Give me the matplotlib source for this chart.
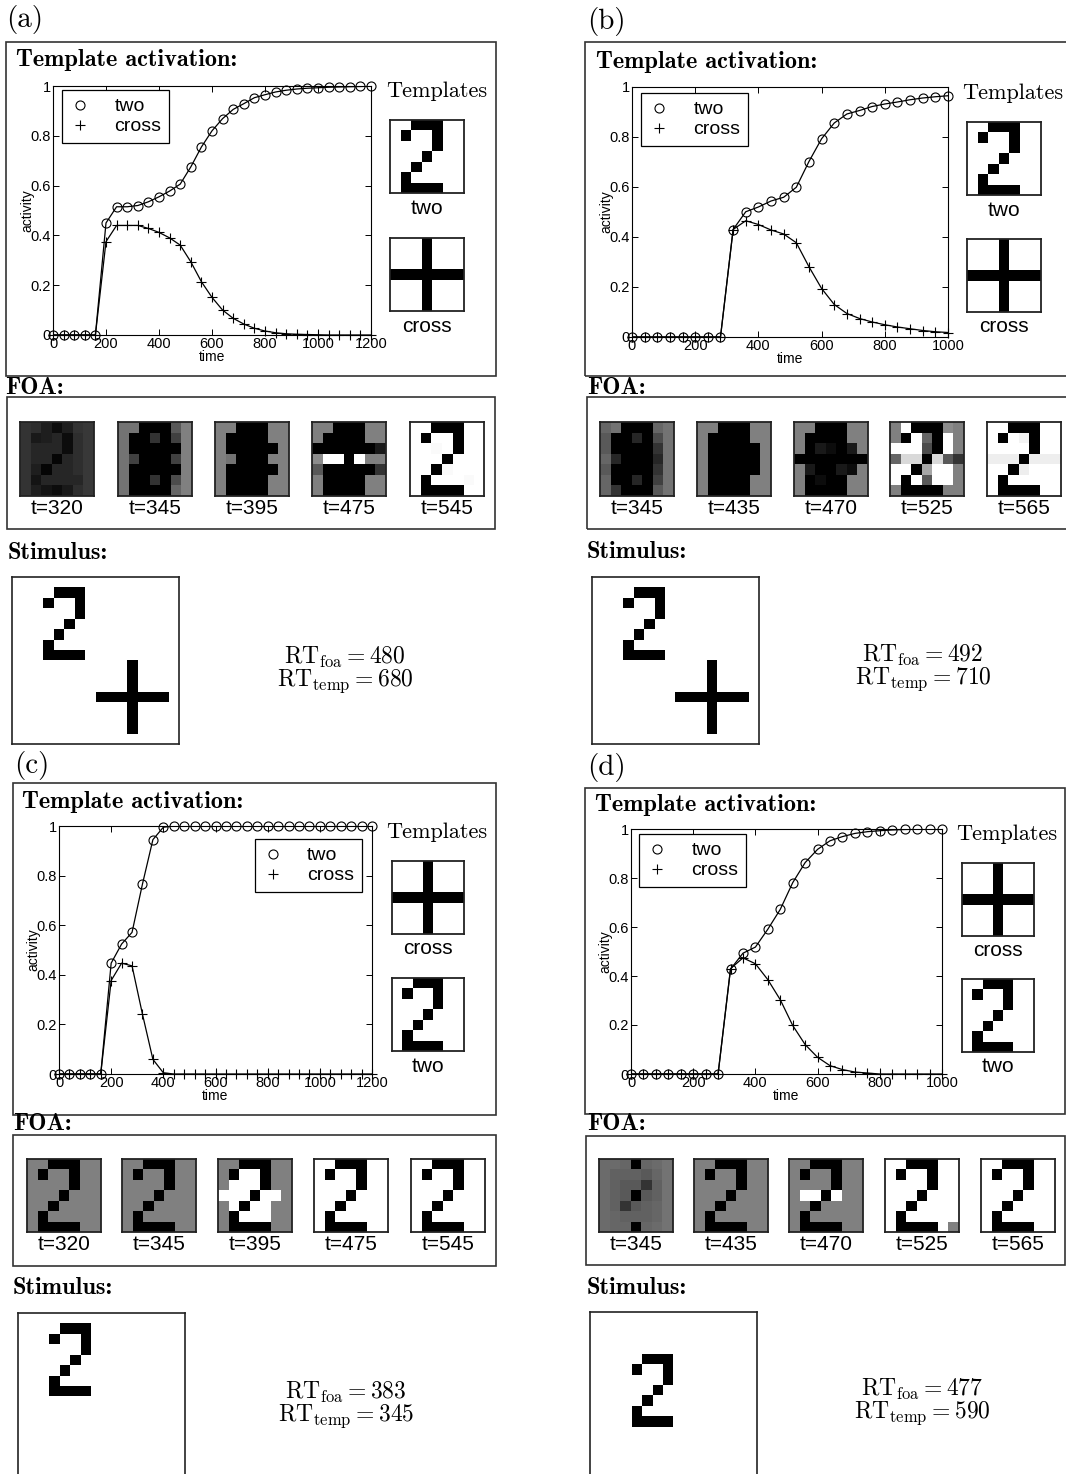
import numpy as np
import matplotlib
matplotlib.use('Agg')
import matplotlib.pyplot as plt
from matplotlib.patches import Rectangle

W, H = 1066, 1474
plt.rcParams['mathtext.fontset'] = 'cm'
SANS = 'Liberation Sans'
SERIF = 'cmr10'
BOLD = 'cmb10'

# ---------------- data ----------------
TWO = [[0, 0, 1, 1, 1, 0, 0],
       [0, 1, 0, 0, 1, 0, 0],
       [0, 0, 0, 0, 1, 0, 0],
       [0, 0, 0, 1, 0, 0, 0],
       [0, 0, 1, 0, 0, 0, 0],
       [0, 1, 0, 0, 0, 0, 0],
       [0, 1, 1, 1, 1, 0, 0]]
CROSS = [[0, 0, 0, 1, 0, 0, 0],
         [0, 0, 0, 1, 0, 0, 0],
         [0, 0, 0, 1, 0, 0, 0],
         [1, 1, 1, 1, 1, 1, 1],
         [0, 0, 0, 1, 0, 0, 0],
         [0, 0, 0, 1, 0, 0, 0],
         [0, 0, 0, 1, 0, 0, 0]]

time_a = list(range(0, 1201, 40))
two_a = [0, 0, 0, 0, 0, 0.45, 0.515, 0.515, 0.52, 0.535, 0.555, 0.578, 0.606, 0.675, 0.755, 0.82,
         0.869, 0.906, 0.929, 0.953, 0.965, 0.976, 0.983, 0.988, 0.991, 0.993, 0.995, 0.996, 0.997,
         0.998, 0.999]
cross_a = [0, 0, 0, 0, 0, 0.375, 0.44, 0.44, 0.44, 0.428, 0.412, 0.39, 0.361, 0.294, 0.214, 0.151,
           0.10, 0.067, 0.044, 0.027, 0.016, 0.009, 0.005, 0.003, 0.002, 0.001, 0, 0, 0, 0, 0]

time_b = list(range(0, 1001, 40))
two_b = [0, 0, 0, 0, 0, 0, 0, 0, 0.43, 0.501, 0.52, 0.544, 0.559, 0.599, 0.702, 0.793, 0.856, 0.892,
         0.906, 0.922, 0.932, 0.94, 0.949, 0.956, 0.961, 0.965]
cross_b = [0, 0, 0, 0, 0, 0, 0, 0, 0.43, 0.465, 0.45, 0.428, 0.412, 0.377, 0.281, 0.194, 0.13, 0.094,
           0.074, 0.06, 0.049, 0.04, 0.033, 0.026, 0.021, 0.018]

time_c = list(range(0, 1201, 40))
two_c = [0, 0, 0, 0, 0, 0.447, 0.524, 0.571, 0.766, 0.945, 0.995] + [1.0] * 20
cross_c = [0, 0, 0, 0, 0, 0.377, 0.447, 0.436, 0.241, 0.059, 0.005] + [0.0] * 20

time_d = list(range(0, 1001, 40))
two_d = [0, 0, 0, 0, 0, 0, 0, 0, 0.428, 0.493, 0.518, 0.591, 0.672, 0.781, 0.863, 0.917, 0.952, 0.969,
         0.982, 0.989, 0.993, 0.996, 0.998, 0.999, 1.0, 1.0]
cross_d = [0, 0, 0, 0, 0, 0, 0, 0, 0.43, 0.474, 0.45, 0.385, 0.303, 0.198, 0.12, 0.068, 0.034, 0.018,
           0.008, 0.004, 0, 0, 0, 0, 0, 0]

foa_times_a = ['t=320', 't=345', 't=395', 't=475', 't=545']
foa_times_b = ['t=345', 't=435', 't=470', 't=525', 't=565']
foa_times_c = ['t=320', 't=345', 't=395', 't=475', 't=545']
foa_times_d = ['t=345', 't=435', 't=470', 't=525', 't=565']

# FOA maps (grey level: 0 black, 1 white)
foa_a = [
    [[.20, .18, .12, .05, .12, .20, .22],
     [.20, .10, .12, .15, .05, .18, .22],
     [.20, .15, .15, .15, .05, .18, .22],
     [.20, .15, .15, .02, .15, .18, .22],
     [.20, .12, .02, .15, .15, .18, .22],
     [.20, .08, .15, .15, .15, .15, .22],
     [.20, .12, .08, .05, .10, .18, .22]],
    [[.45, .45, 0, 0, 0, .35, .5],
     [.45, 0, 0, .2, 0, .25, .5],
     [.45, 0, 0, 0, 0, 0, .5],
     [.45, .25, 0, 0, 0, .25, .5],
     [.45, 0, 0, 0, 0, 0, .5],
     [.45, 0, 0, .2, 0, .3, .5],
     [.45, 0, 0, 0, 0, .4, .5]],
    [[.5, .5, 0, 0, 0, .5, .5],
     [.5, 0, 0, 0, 0, .5, .5],
     [.5, 0, 0, 0, 0, 0, .5],
     [.5, .45, 0, 0, 0, .5, .5],
     [.5, 0, 0, 0, 0, 0, .5],
     [.5, 0, 0, 0, 0, .5, .5],
     [.5, 0, 0, 0, 0, .5, .5]],
    [[.5, .5, 0, 0, 0, .5, .5],
     [.5, 0, 0, 0, 0, .5, .5],
     [0, 0, 0, 0, 0, 0, .1],
     [.55, 1, 1, 0, 1, .5, .5],
     [.35, 0, 0, 0, 0, 0, .2],
     [.5, 0, 0, 0, 0, .5, .5],
     [.5, 0, 0, 0, 0, .5, .5]],
    [[1, 1, 0, 0, 0, 1, 1],
     [1, 0, 1, 1, 0, 1, 1],
     [1, 1, .98, 1, 0, 1, 1],
     [1, 1, 1, 0, 1, 1, 1],
     [1, 1, 0, .98, 1, 1, 1],
     [1, 0, 1, 1, 1, .98, 1],
     [1, 0, 0, 0, 0, 1, 1]],
]
foa_b = [
    [[.4, .45, 0, 0, 0, .4, .45],
     [.35, 0, 0, .15, 0, .3, .45],
     [.35, 0, 0, 0, 0, .2, .45],
     [.4, .15, 0, 0, 0, .15, .45],
     [.35, 0, 0, 0, 0, .2, .45],
     [.4, 0, 0, .15, 0, .25, .45],
     [.4, .2, 0, 0, 0, .35, .45]],
    [[.5, .5, 0, 0, 0, .5, .5],
     [.5, 0, 0, 0, 0, .5, .5],
     [.5, 0, 0, 0, 0, 0, .5],
     [.5, 0, 0, 0, 0, 0, .5],
     [.5, 0, 0, 0, 0, 0, .5],
     [.5, 0, 0, 0, 0, .5, .5],
     [.5, 0, 0, 0, 0, .5, .5]],
    [[.5, .5, 0, 0, 0, .5, .5],
     [.5, 0, 0, 0, 0, .5, .5],
     [.5, 0, .1, .05, 0, .1, .5],
     [0, 0, 0, 0, 0, 0, 0],
     [.5, .1, 0, 0, .1, .05, .5],
     [.5, 0, .05, 0, 0, .5, .5],
     [.5, 0, 0, 0, 0, .5, .5]],
    [[.5, 1, 0, 0, 0, .55, .5],
     [.5, 0, 1, .4, 0, 1, .5],
     [1, 1, 1, .3, 0, 1, .5],
     [.4, .85, .85, 0, .85, .35, .2],
     [1, 1, 0, .65, 1, 1, .5],
     [1, 0, 1, .35, 1, 1, .5],
     [.5, 0, 0, 0, 0, .5, .5]],
    [[1, 1, 0, 0, 0, 1, 1],
     [1, 0, 1, .95, 0, 1, 1],
     [1, 1, 1, 1, 0, 1, 1],
     [.93, .93, .93, 0, .93, .93, .93],
     [1, 1, 0, .93, 1, 1, 1],
     [1, 0, 1, 1, 1, 1, 1],
     [1, 0, 0, 0, 0, 1, 1]],
]
foa_c = [
    [[.5, .5, 0, 0, 0, .5, .5],
     [.5, 0, .5, .5, 0, .5, .5],
     [.5, .5, .5, .5, 0, .5, .5],
     [.5, .5, .5, 0, .5, .5, .5],
     [.5, .5, 0, .5, .5, .5, .5],
     [.5, 0, .5, .5, .5, .5, .5],
     [.5, 0, 0, 0, 0, .5, .5]],
    [[.5, .5, 0, 0, 0, .5, .5],
     [.5, 0, .5, .5, 0, .5, .5],
     [.5, .5, .5, .5, 0, .5, .5],
     [.5, .5, .5, 0, .5, .5, .5],
     [.5, .5, 0, .5, .5, .5, .5],
     [.5, 0, .5, .5, .5, .5, .5],
     [.5, 0, 0, 0, 0, .5, .5]],
    [[.5, .5, 0, 0, 0, .5, .5],
     [.5, 0, 1, 1, 0, .5, .5],
     [.5, 1, 1, 1, 0, .5, .5],
     [1, 1, 1, 0, 1, 1, .5],
     [.5, 1, 0, 1, 1, .5, .5],
     [.5, 0, 1, 1, 1, .5, .5],
     [.5, 0, 0, 0, 0, .5, .5]],
    [[1, 1, 0, 0, 0, 1, 1],
     [1, 0, 1, 1, 0, 1, 1],
     [1, 1, 1, 1, 0, 1, 1],
     [1, 1, 1, 0, 1, 1, 1],
     [1, 1, 0, 1, 1, 1, 1],
     [1, 0, 1, 1, 1, 1, 1],
     [1, 0, 0, 0, 0, 1, 1]],
    [[1, 1, 0, 0, 0, 1, 1],
     [1, 0, 1, 1, 0, 1, 1],
     [1, 1, 1, 1, 0, 1, 1],
     [1, 1, 1, 0, 1, 1, 1],
     [1, 1, 0, 1, 1, 1, 1],
     [1, 0, 1, 1, 1, 1, 1],
     [1, 0, 0, 0, 0, 1, 1]],
]
foa_d = [
    [[.42, .42, .40, 0, .40, .42, .45],
     [.42, .38, .38, .38, .35, .40, .45],
     [.42, .38, .35, .35, .20, .38, .45],
     [.42, .38, .35, 0, .35, .38, .45],
     [.42, .38, .20, .35, .38, .40, .45],
     [.42, .40, .38, .38, .38, .40, .45],
     [.42, .40, .40, 0, .40, .42, .45]],
    [[.5, .5, 0, 0, 0, .5, .5],
     [.5, 0, .5, .5, 0, .5, .5],
     [.5, .5, .5, .5, 0, .5, .5],
     [.5, .5, .5, 0, .5, .5, .5],
     [.5, .5, 0, .5, .5, .5, .5],
     [.5, 0, .5, .5, .5, .5, .5],
     [.5, 0, 0, 0, 0, .5, .5]],
    [[.5, .5, 0, 0, 0, .5, .5],
     [.5, 0, .5, .5, 0, .5, .5],
     [.5, .5, .5, .5, 0, .5, .5],
     [.5, 1, 1, 0, 1, .5, .5],
     [.5, .5, 0, .5, .5, .5, .5],
     [.5, 0, .5, .5, .5, .5, .5],
     [.5, 0, 0, 0, 0, .5, .5]],
    [[1, 1, 0, 0, 0, 1, 1],
     [1, 0, 1, 1, 0, 1, 1],
     [1, 1, 1, 1, 0, 1, 1],
     [1, 1, 1, 0, 1, 1, 1],
     [1, 1, 0, 1, 1, 1, 1],
     [1, 0, 1, 1, 1, 1, 1],
     [1, 0, 0, 0, 0, 1, .5]],
    [[1, 1, 0, 0, 0, 1, 1],
     [1, 0, 1, 1, 0, 1, 1],
     [1, 1, 1, 1, 0, 1, 1],
     [1, 1, 1, 0, 1, 1, 1],
     [1, 1, 0, 1, 1, 1, 1],
     [1, 0, 1, 1, 1, 1, 1],
     [1, 0, 0, 0, 0, 1, 1]],
]

# stimulus: 16x16 field, (row, col) offsets of the placed shapes
stim_size = 16
stim_a = [('two', 1, 2), ('cross', 8, 8)]
stim_b = [('two', 1, 2), ('cross', 8, 8)]
stim_c = [('two', 1, 2)]
stim_d = [('two', 4, 3)]

rt_a = (480, 680)
rt_b = (492, 710)
rt_c = (383, 345)
rt_d = (477, 590)

template_order_a = ['two', 'cross']
template_order_b = ['two', 'cross']
template_order_c = ['cross', 'two']
template_order_d = ['cross', 'two']

SHAPES = {'two': TWO, 'cross': CROSS}

# ---------------- drawing helpers ----------------
fig = plt.figure(figsize=(W / 100, H / 100), dpi=100)


def add_ax(x0, y0, x1, y1):
    return fig.add_axes([x0 / W, 1 - y1 / H, (x1 - x0) / W, (y1 - y0) / H])


def ftext(x, y, s, **kw):
    fig.text(x / W, 1 - y / H, s, **kw)


def frame(x0, y0, x1, y1, lw=1.2, ec='#333333'):
    fig.add_artist(Rectangle((x0 / W, 1 - y1 / H), (x1 - x0) / W, (y1 - y0) / H,
                             transform=fig.transFigure, fill=False, lw=lw, ec=ec))


def pixel_image(x0, y0, x1, y1, grid, lw=1.3, invert=False):
    ax = add_ax(x0, y0, x1, y1)
    arr = np.asarray(grid, float)
    if invert:
        arr = 1 - arr
    ax.imshow(arr, cmap='gray', vmin=0, vmax=1, interpolation='nearest', aspect='auto')
    ax.set_xticks([])
    ax.set_yticks([])
    for s in ax.spines.values():
        s.set_linewidth(lw)
        s.set_color('#222222')
    return ax


def draw_panel(letter, times, two, cross, xmax, leg_xy, leg_loc, tmpl_order,
               foa, foa_labels, foa_xs, stim, rt, geo):
    ftext(geo['letter'][0], geo['letter'][1], '(%s)' % letter, fontfamily=SERIF, fontsize=21,
          va='center', ha='left')
    bx0, by0, bx1, by1 = geo['box']
    frame(bx0, by0, bx1, by1)
    ftext(geo['title'][0], geo['title'][1], 'Template activation:', fontfamily=BOLD, fontsize=17.5,
          va='center', ha='left')
    ax = add_ax(*geo['axes'])
    ax.plot(times, two, color='black', lw=0.9)
    ax.plot(times, cross, color='black', lw=0.9)
    ax.plot(times, two, ls='none', marker='o', mfc='none', mec='black', ms=6.5, mew=0.8, label='two',
            clip_on=False)
    ax.plot(times, cross, ls='none', marker='+', color='black', ms=6.5, mew=0.8, label='cross',
            clip_on=False)
    ax.set_xlim(0, xmax)
    ax.set_ylim(0, 1)
    ax.set_xticks(list(range(0, xmax + 1, 200)))
    ax.set_yticks([0, 0.2, 0.4, 0.6, 0.8, 1])
    ax.set_yticklabels(['0', '0.2', '0.4', '0.6', '0.8', '1'])
    ax.tick_params(direction='in', top=True, right=True, length=4, width=0.7, labelsize=10.5, pad=1.5)
    for lab in ax.get_xticklabels() + ax.get_yticklabels():
        lab.set_fontfamily(SANS)
    for s in ax.spines.values():
        s.set_linewidth(0.8)
    ax.set_xlabel('time', fontfamily=SANS, fontsize=10, labelpad=-1)
    ax.set_ylabel('activity', fontfamily=SANS, fontsize=10, labelpad=-3)
    leg = ax.legend(loc=leg_loc, bbox_to_anchor=(leg_xy[0] / W, 1 - leg_xy[1] / H),
                    bbox_transform=fig.transFigure, borderaxespad=0, fancybox=False,
                    edgecolor='black', framealpha=1, prop={'family': SANS, 'size': 14},
                    handlelength=1.1, handletextpad=1.2, borderpad=0.4, labelspacing=0.12)
    leg.get_frame().set_linewidth(0.9)
    # templates
    ftext(geo['tmpl_text'][0], geo['tmpl_text'][1], 'Templates', fontfamily=SERIF, fontsize=16,
          va='center', ha='center')
    for (tx0, ty0, tx1, ty1), name in zip(geo['tmpl_boxes'], tmpl_order):
        pixel_image(tx0, ty0, tx1, ty1, SHAPES[name], invert=True)
        ftext((tx0 + tx1) / 2, ty1 + 15, name, fontfamily=SANS, fontsize=15, va='center', ha='center')
    # FOA
    ftext(geo['foa_label'][0], geo['foa_label'][1], 'FOA:', fontfamily=BOLD, fontsize=17.5,
          va='center', ha='left')
    frame(*geo['foa_box'])
    fy0, fy1 = geo['foa_y']
    for x0, g, lab in zip(foa_xs, foa, foa_labels):
        pixel_image(x0, fy0, x0 + 74, fy1, g)
        ftext(x0 + 37, fy1 + 13, lab, fontfamily=SANS, fontsize=15, va='center', ha='center')
    # stimulus
    ftext(geo['stim_label'][0], geo['stim_label'][1], 'Stimulus:', fontfamily=BOLD, fontsize=17.5,
          va='center', ha='left')
    field = np.zeros((stim_size, stim_size))
    for name, r, c in stim:
        shp = np.asarray(SHAPES[name])
        sub = field[r:r + 7, c:c + 7]
        sub[shp == 1] = 1
    sx0, sy0 = geo['stim_xy']
    pixel_image(sx0, sy0, sx0 + 167, sy0 + 167, field, lw=1.2, invert=True)
    rx, ry = geo['rt']
    ftext(rx, ry, r'$\mathrm{RT}_{\mathrm{foa}} = %d$' % rt[0], fontsize=17, va='center', ha='center')
    ftext(rx, ry + 24, r'$\mathrm{RT}_{\mathrm{temp}} = %d$' % rt[1], fontsize=17, va='center',
          ha='center')


geo_a = dict(letter=(6, 20), box=(6, 42, 496, 376), title=(16, 60), axes=(53, 86, 371, 335),
             tmpl_text=(437, 91), tmpl_boxes=[(390, 120, 464, 193), (390, 238, 464, 311)],
             foa_label=(5, 388), foa_box=(7, 397, 495, 529), foa_y=(422, 496),
             stim_label=(8, 553), stim_xy=(12, 577), rt=(345, 657))
geo_b = dict(letter=(587, 22), box=(585, 42, 1075, 376), title=(596, 62), axes=(632, 87, 948, 337),
             tmpl_text=(1013, 93), tmpl_boxes=[(967, 122, 1041, 195), (967, 239, 1041, 312)],
             foa_label=(587, 388), foa_box=(587, 397, 1075, 529), foa_y=(422, 496),
             stim_label=(587, 552), stim_xy=(592, 577), rt=(923, 655))
geo_c = dict(letter=(14, 766), box=(13, 783, 496, 1115), title=(22, 802), axes=(59, 826, 372, 1074),
             tmpl_text=(437, 832), tmpl_boxes=[(392, 861, 464, 934), (392, 978, 464, 1051)],
             foa_label=(13, 1124), foa_box=(13, 1135, 496, 1266), foa_y=(1159, 1232),
             stim_label=(13, 1288), stim_xy=(18, 1313), rt=(346, 1392))
geo_d = dict(letter=(587, 768), box=(585, 788, 1065, 1114), title=(595, 805), axes=(631, 829, 942, 1074),
             tmpl_text=(1007, 834), tmpl_boxes=[(962, 863, 1034, 936), (962, 979, 1034, 1052)],
             foa_label=(587, 1124), foa_box=(586, 1136, 1065, 1265), foa_y=(1159, 1232),
             stim_label=(587, 1288), stim_xy=(590, 1312), rt=(922, 1389))

draw_panel('a', time_a, two_a, cross_a, 1200, (62, 90), 'upper left', template_order_a,
           foa_a, foa_times_a, [20, 118, 215, 312, 410], stim_a, rt_a, geo_a)
draw_panel('b', time_b, two_b, cross_b, 1000, (641, 93), 'upper left', template_order_b,
           foa_b, foa_times_b, [600, 697, 794, 890, 987], stim_b, rt_b, geo_b)
draw_panel('c', time_c, two_c, cross_c, 1200, (362, 839), 'upper right', template_order_c,
           foa_c, foa_times_c, [27, 122, 218, 314, 411], stim_c, rt_c, geo_c)
draw_panel('d', time_d, two_d, cross_d, 1000, (639, 834), 'upper left', template_order_d,
           foa_d, foa_times_d, [599, 694, 789, 885, 981], stim_d, rt_d, geo_d)

fig.savefig('out.png', dpi=100, facecolor='white')
